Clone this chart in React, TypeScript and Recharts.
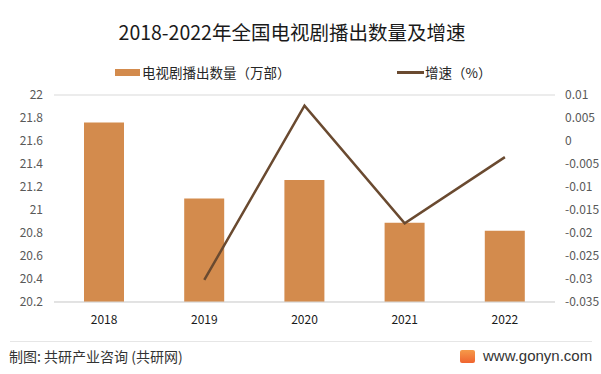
import React from 'react';
import {
  ComposedChart,
  Bar,
  Line,
  XAxis,
  YAxis,
  CartesianGrid,
} from 'recharts';

const years = ['2018', '2019', '2020', '2021', '2022'];
const episodes = [21.76, 21.1, 21.26, 20.89, 20.82];
const growth = [null, -0.0302, 0.0077, -0.0179, -0.0035];

const leftTicks = [20.2, 20.4, 20.6, 20.8, 21, 21.2, 21.4, 21.6, 21.8, 22];
const rightTicks = [-0.035, -0.03, -0.025, -0.02, -0.015, -0.01, -0.005, 0, 0.005, 0.01];

const data = years.map((year, i) => ({
  year,
  episodes: episodes[i],
  growth: growth[i],
}));

const FONT = '"Noto Sans CJK SC", "Noto Sans", sans-serif';
const BAR_COLOR = '#D38B4D';
const LINE_COLOR = '#6A4A30';

const fmt = (v: number, digits: number) => String(Number(v.toFixed(digits)));

function LegendBox() {
  return (
    <div
      style={{
        position: 'absolute',
        left: 0,
        top: 62,
        width: 601,
        height: 20,
        fontSize: 13.5,
        color: '#262626',
        fontFamily: FONT,
      }}
    >
      <div style={{ position: 'absolute', left: 115, top: 7, width: 25, height: 7, background: BAR_COLOR }} />
      <span style={{ position: 'absolute', left: 142, top: 0, lineHeight: '20px' }}>
        电视剧播出数量（万部）
      </span>
      <div style={{ position: 'absolute', left: 397, top: 9, width: 27, height: 3, background: LINE_COLOR }} />
      <span style={{ position: 'absolute', left: 425, top: 0, lineHeight: '20px' }}>
        增速（%）
      </span>
    </div>
  );
}

export default function App() {
  return (
    <div
      style={{
        position: 'absolute',
        left: 0,
        top: 0,
        width: 601,
        height: 374,
        background: '#fff',
        fontFamily: FONT,
        overflow: 'hidden',
      }}
    >
      <div
        style={{
          position: 'absolute',
          left: 0,
          width: 584,
          top: 18,
          textAlign: 'center',
          fontSize: 19.5,
          lineHeight: '28px',
          color: '#1a1a1a',
        }}
      >
        2018-2022年全国电视剧播出数量及增速
      </div>

      <ComposedChart
        width={601}
        height={374}
        data={data}
        margin={{ top: 95, right: 0, bottom: 52, left: 0 }}
      >
        <CartesianGrid vertical={false} stroke="#d9d9d9" />
        <XAxis
          dataKey="year"
          axisLine={{ stroke: '#d9d9d9' }}
          tickLine={false}
          tickSize={0}
          tickMargin={13}
          height={20}
          tick={{ fontSize: 12, fill: '#1a1a1a', fontFamily: FONT }}
        />
        <YAxis
          yAxisId="left"
          width={54}
          domain={[20.2, 22]}
          ticks={leftTicks}
          interval={0}
          axisLine={false}
          tickLine={false}
          tickSize={0}
          tickMargin={11}
          tickFormatter={(v: number) => fmt(v, 1)}
          tick={{ fontSize: 12, fill: '#595959', fontFamily: FONT }}
        />
        <YAxis
          yAxisId="right"
          orientation="right"
          width={46}
          domain={[-0.035, 0.01]}
          ticks={rightTicks}
          interval={0}
          axisLine={false}
          tickLine={false}
          tickSize={0}
          tickMargin={10}
          tickFormatter={(v: number) => fmt(v, 3)}
          tick={{ fontSize: 12, fill: '#595959', fontFamily: FONT }}
        />
        <Bar
          yAxisId="left"
          dataKey="episodes"
          name="电视剧播出数量（万部）"
          fill={BAR_COLOR}
          barSize={40}
          isAnimationActive={false}
        />
        <Line
          yAxisId="right"
          dataKey="growth"
          name="增速（%）"
          stroke={LINE_COLOR}
          strokeWidth={2.5}
          dot={false}
          activeDot={false}
          type="linear"
          isAnimationActive={false}
        />
      </ComposedChart>

      <LegendBox />

      <div
        style={{
          position: 'absolute',
          left: 10,
          right: 9,
          top: 341,
          height: 1,
          background: '#e6e6e6',
        }}
      />
      <div
        style={{
          position: 'absolute',
          left: 9,
          top: 347,
          fontSize: 14,
          lineHeight: '18px',
          color: '#333',
        }}
      >
        制图: 共研产业咨询 (共研网)
      </div>
      <div
        style={{
          position: 'absolute',
          left: 460,
          top: 350,
          width: 15,
          height: 13,
          borderRadius: 2,
          background: 'linear-gradient(180deg, #f59a4a, #f0642f)',
        }}
      />
      <div
        style={{
          position: 'absolute',
          left: 483,
          top: 346,
          fontSize: 15,
          lineHeight: '20px',
          color: '#333',
          fontFamily: '"Liberation Sans", Arial, sans-serif',
        }}
      >
        www.gonyn.com
      </div>
    </div>
  );
}
